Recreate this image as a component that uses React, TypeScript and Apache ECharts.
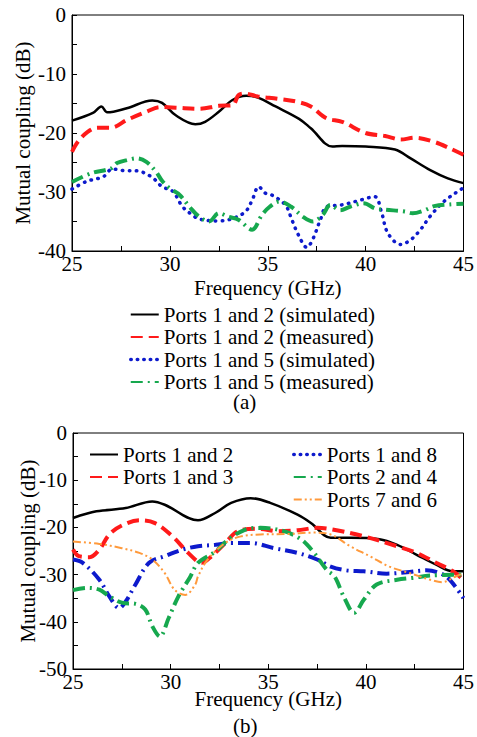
import React, { useEffect, useRef } from "react";
import * as echarts from "echarts";

// ---- Data (a) ----
const topSim12: [number, number][] = [
  [25, -17.9], [26.07, -16.6], [26.5, -15.5], [26.8, -16.5], [27.8, -15.8], [29.1, -14.5], [29.6, -14.9],
  [30.3, -17.0], [31.3, -18.5], [31.8, -18.1], [32.5, -16.4], [33.2, -14.4], [33.9, -13.7], [34.5, -14.0],
  [35.4, -15.5], [36.6, -17.6], [37.2, -19.2], [38.3, -22.3], [38.8, -22.2], [40, -22.3], [41.5, -22.8],
  [42.3, -24.3], [43.3, -26.3], [44.2, -27.7], [45, -28.5],
];
const topMeas12: [number, number][] = [
  [25, -23.2], [25.3, -21.5], [25.8, -19.8], [26.3, -19.1], [27, -19.1], [27.8, -17.8], [28.8, -16.4],
  [29.5, -15.6], [30.3, -15.7], [31.5, -15.9], [32.5, -15.4], [33.2, -15.3], [33.5, -13.6], [33.8, -13.3],
  [34.5, -13.8], [35.5, -14.2], [36.5, -14.7], [37.2, -15.5], [38, -17.5], [38.8, -18.1], [40, -20.0],
  [41, -20.5], [41.8, -21.1], [42.5, -20.8], [43.5, -21.5], [44.3, -22.6], [45, -23.7],
];
const topSim15: [number, number][] = [
  [25, -29.5], [25.75, -28.2], [26.6, -27.4], [27.06, -26.1], [27.78, -26.4], [28.23, -26.4], [29.05, -27.4],
  [29.6, -29.1], [30.15, -29.9], [30.65, -32.5], [31.15, -33.9], [31.5, -34.6], [32.5, -34.9], [33.2, -34.5],
  [33.87, -33.3], [34.2, -31.4], [34.54, -29.1], [34.88, -30.2], [35.2, -30.5], [35.9, -32.2], [36.23, -34.7],
  [36.57, -37.3], [37.0, -39.4], [37.3, -38.0], [37.7, -34.6], [38.0, -32.5], [38.77, -32.2], [39.6, -31.5],
  [40.47, -30.8], [40.8, -33.3], [41.14, -37.0], [41.8, -38.9], [42.3, -38.1], [42.8, -36.4], [43.3, -34.1],
  [44.0, -31.6], [44.8, -29.7], [45, -29.3],
];
const topMeas15: [number, number][] = [
  [25, -28.3], [26, -26.8], [27, -26.0], [27.3, -25.1], [27.8, -24.6], [28.3, -24.3], [28.8, -24.9],
  [29.3, -26.6], [29.6, -28.1], [30, -29.4], [30.5, -30.5], [31, -32.5], [31.5, -34.2], [32, -35.0],
  [32.5, -33.6], [33, -34.2], [33.5, -34.7], [34.2, -36.4], [34.7, -33.9], [35.1, -32.5], [35.6, -31.6],
  [36.2, -32.5], [36.8, -34.2], [37.3, -35.0], [37.8, -33.9], [38.2, -32.2], [38.7, -33.1], [39.2, -32.5],
  [39.9, -31.9], [40.5, -32.8], [41, -33.0], [42, -33.3], [42.4, -33.6], [43, -33.1], [43.5, -32.4],
  [44.3, -32.1], [45, -32.0],
];

// ---- Data (b) ----
const botP12: [number, number][] = [
  [25, -18.0], [26.2, -16.6], [27.7, -15.9], [29.06, -14.5], [29.7, -15.2], [31.4, -18.5], [32.3, -16.9],
  [33.1, -14.8], [34.1, -13.8], [35.1, -14.8], [36.5, -17.3], [37.2, -19.1], [38.2, -22.2], [39.2, -22.2],
  [40.7, -22.5], [41.6, -23.7], [42.6, -25.8], [43.6, -27.9], [44.46, -29.3], [45, -29.3],
];
const botP13: [number, number][] = [
  [25, -24.7], [25.3, -26.1], [25.85, -26.3], [26.35, -24.7], [26.86, -21.5], [27.5, -19.6], [28.4, -18.5],
  [29.2, -19.1], [30.1, -21.9], [30.9, -25.4], [31.6, -27.5], [32.1, -26.1], [32.8, -23.3], [33.45, -20.8],
  [34.5, -20.3], [35.5, -20.8], [36.5, -20.6], [37.5, -20.1], [38.36, -20.5], [39.9, -21.9], [41.6, -24.0],
  [42.6, -25.4], [43.6, -27.5], [44.46, -29.3], [45, -31.1],
];
const botP18: [number, number][] = [
  [25, -26.8], [25.5, -27.5], [26.35, -31.1], [26.86, -34.6], [27.37, -37.1], [27.7, -35.7], [28.2, -32.1],
  [28.9, -27.5], [29.7, -26.1], [30.6, -24.7], [31.4, -24.0], [32.3, -23.7], [33.1, -23.3], [34.1, -23.3],
  [35.3, -24.4], [36.5, -25.4], [37.5, -26.8], [38.2, -28.3], [39.0, -29.1], [39.9, -29.3], [41.06, -29.8],
  [42.1, -29.5], [43.1, -29.1], [43.8, -29.7], [44.3, -31.1], [45, -35.0],
];
const botP24: [number, number][] = [
  [25, -33.3], [25.7, -32.8], [26.35, -33.2], [26.86, -34.6], [27.55, -36.0], [28.2, -36.2], [28.7, -37.4],
  [29.07, -41.0], [29.45, -43.1], [29.9, -39.2], [30.4, -34.6], [31.0, -30.5], [31.4, -27.5], [32.3, -25.1],
  [32.95, -22.6], [33.8, -20.5], [34.6, -20.1], [35.8, -20.8], [36.7, -22.6], [37.35, -25.4], [38.0, -29.0],
  [38.4, -30.4], [38.86, -34.6], [39.4, -38.1], [39.9, -35.3], [40.55, -32.1], [41.6, -31.1], [42.4, -30.7],
  [43.3, -30.2], [45, -30.0],
];
const botP76: [number, number][] = [
  [25, -23.0], [26.35, -23.5], [27.5, -24.4], [28.4, -25.4], [29.06, -26.8], [29.7, -29.7], [30.2, -33.2],
  [30.75, -34.3], [31.26, -32.1], [31.4, -30.4], [31.9, -26.8], [32.8, -23.3], [33.6, -21.9], [34.6, -21.5],
  [36.0, -21.4], [37.35, -21.1], [38.2, -21.5], [39.2, -24.0], [40.2, -26.1], [41.2, -28.3], [42.26, -29.7],
  [43.3, -31.1], [43.9, -31.6], [44.6, -30.4], [45, -29.7],
];

const xTicks = [25, 30, 35, 40, 45];
const FONT = "Liberation Serif";
const FS = 21;

const RED = "#ff1a1a";
const BLUE = "#0d1acc";
const GREEN = "#16a84e";
const ORANGE = "#ff9a3c";

const txt = () => ({ fontFamily: FONT, fontSize: FS, color: "#000" });

function xAxisCfg(gridIndex: number, gap: number, margin: number) {
  return {
    type: "value",
    gridIndex,
    min: xTicks[0],
    max: xTicks[xTicks.length - 1],
    interval: 5,
    name: "Frequency (GHz)",
    nameLocation: "middle",
    nameGap: gap,
    nameMoveOverlap: false,
    nameTextStyle: txt(),
    axisLine: { show: true, onZero: false, lineStyle: { color: "#000", width: 1 } },
    axisTick: { show: true, inside: true, length: 5, lineStyle: { color: "#000" } },
    minorTick: { show: true, splitNumber: 2, length: 5, lineStyle: { color: "#000" } },
    axisLabel: { ...txt(), margin },
    splitLine: { show: false },
  };
}

function yAxisCfg(gridIndex: number, min: number, gap: number) {
  return {
    type: "value",
    gridIndex,
    min,
    max: 0,
    interval: 10,
    name: "Mutual coupling (dB)",
    nameLocation: "middle",
    nameGap: gap,
    nameMoveOverlap: false,
    nameTextStyle: txt(),
    axisLine: { show: true, onZero: false, lineStyle: { color: "#000", width: 1 } },
    axisTick: { show: true, inside: true, length: 5, lineStyle: { color: "#000" } },
    minorTick: { show: true, splitNumber: 2, length: 5, lineStyle: { color: "#000" } },
    axisLabel: { ...txt(), margin: 6 },
    splitLine: { show: false },
  };
}

function lineSeries(name: string, data: [number, number][], idx: number, color: string, width: number, type: any, cap = "butt") {
  return {
    type: "line",
    name,
    data,
    xAxisIndex: idx,
    yAxisIndex: idx,
    smooth: 0.35,
    symbol: "none",
    showSymbol: false,
    lineStyle: { color, width, type, cap },
    itemStyle: { color },
    z: 3,
  };
}

export default function App() {
  const ref = useRef<HTMLDivElement>(null);
  useEffect(() => {
    if (!ref.current) return;
    const chart = echarts.init(ref.current, undefined, { renderer: "svg" });
    const legendBase = {
      orient: "vertical",
      padding: 0,
      itemWidth: 28,
      itemHeight: 14,
      itemGap: 1.5,
      itemStyle: { opacity: 0 },
      textStyle: txt(),
    };
    chart.setOption({
      animation: false,
      backgroundColor: "#fff",
      grid: [
        { left: 72, top: 15, width: 394, height: 236, show: true, borderColor: "#000", borderWidth: 1, backgroundColor: "transparent" },
        { left: 73, top: 433, width: 395, height: 236, show: true, borderColor: "#000", borderWidth: 1, backgroundColor: "transparent" },
      ],
      xAxis: [xAxisCfg(0, 26, 2), xAxisCfg(1, 19, 2)],
      yAxis: [yAxisCfg(0, -40, 39), yAxisCfg(1, -50, 35)],
      legend: [
        {
          ...legendBase,
          left: 129,
          top: 304,
          data: [
            "Ports 1 and 2 (simulated)",
            "Ports 1 and 2 (measured)",
            { name: "Ports 1 and 5 (simulated)", lineStyle: { type: [0.5, 6], cap: "round", width: 3.5 } },
            "Ports 1 and 5 (measured)",
          ],
        },
        {
          ...legendBase,
          left: 89,
          top: 444,
          data: ["Ports 1 and 2", "Ports 1 and 3"],
        },
        {
          ...legendBase,
          left: 292,
          top: 444,
          data: [
            { name: "Ports 1 and 8", lineStyle: { type: [0.5, 6], cap: "round", width: 3.5 } },
            "Ports 2 and 4",
            "Ports 7 and 6",
          ],
        },
      ],
      graphic: [
        { type: "text", left: 233, top: 391, style: { text: "(a)", fontFamily: FONT, fontSize: FS, fill: "#000" } },
        { type: "text", left: 233, top: 715, style: { text: "(b)", fontFamily: FONT, fontSize: FS, fill: "#000" } },
      ],
      series: [
        lineSeries("Ports 1 and 2 (simulated)", topSim12, 0, "#000", 2.5, "solid"),
        lineSeries("Ports 1 and 2 (measured)", topMeas12, 0, RED, 4, [12, 6]),
        lineSeries("Ports 1 and 5 (simulated)", topSim15, 0, BLUE, 3.5, [0.5, 6.5], "round"),
        lineSeries("Ports 1 and 5 (measured)", topMeas15, 0, GREEN, 4, [12, 5, 2, 5]),
        lineSeries("Ports 1 and 2", botP12, 1, "#000", 2.5, "solid"),
        lineSeries("Ports 1 and 3", botP13, 1, RED, 4, [12, 6]),
        lineSeries("Ports 1 and 8", botP18, 1, BLUE, 4, [12, 5, 2, 5]),
        lineSeries("Ports 2 and 4", botP24, 1, GREEN, 4, [12, 5, 2, 5]),
        lineSeries("Ports 7 and 6", botP76, 1, ORANGE, 2, [8, 3, 2, 3, 2, 3]),
      ],
    });
    return () => chart.dispose();
  }, []);
  return (
    <div
      ref={ref}
      style={{ position: "fixed", left: 0, top: 0, width: 477, height: 737, background: "#fff" }}
    />
  );
}
